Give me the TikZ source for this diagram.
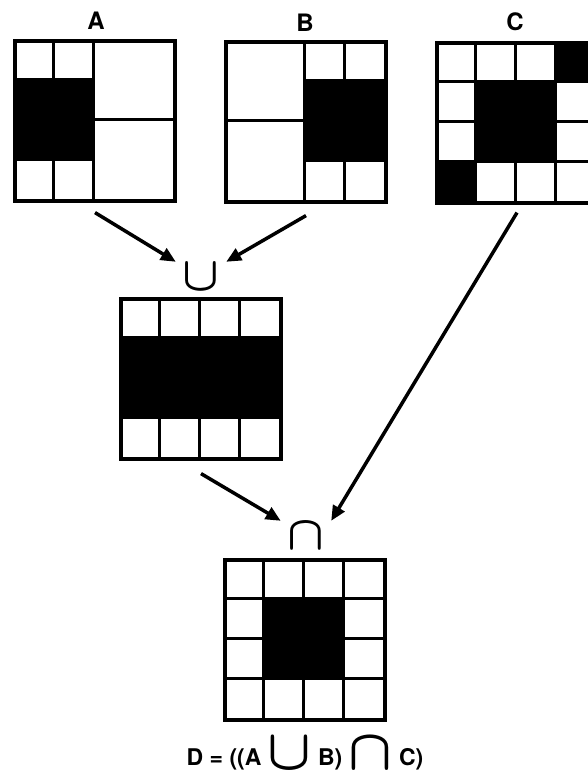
\documentclass[tikz,border=0pt]{standalone}
\usepackage{amsmath}
\usepackage{fontspec}
\setmainfont{TeX Gyre Heros}
\usetikzlibrary{arrows.meta}

\begin{document}
\begin{tikzpicture}[x=1pt,y=-1pt,
  pixgrid/.style={draw,line width=3.2pt,minimum width=160pt,minimum height=160pt,inner sep=0pt},
  cellline/.style={line width=2.8pt},
  flow/.style={line width=3.5pt,-{Triangle[length=15pt,width=13pt]}},
  setop/.style={inner sep=0pt,minimum width=50pt,minimum height=30pt},
  lbl/.style={font=\fontsize{24}{28}\selectfont\bfseries}]
\useasboundingbox (0,0) rectangle (588,773);
\clip (0,0) rectangle (588,773);
% input images
\node[lbl] (la) at (96,21) {A};
\node[lbl] (lb) at (305,23) {B};
\node[lbl] (lc) at (515,22) {C};
\node[pixgrid] (A) at (95,121) {};
\node[pixgrid] (B) at (306,122) {};
\node[pixgrid] (C) at (517,123) {};
\fill ([shift={(0,40)}]A.north west) rectangle ++(80,80);
\fill ([shift={(80,40)}]B.north west) rectangle ++(80,80);
\fill ([shift={(120,0)}]C.north west) rectangle ++(40,40);
\fill ([shift={(40,40)}]C.north west) rectangle ++(80,80);
\fill ([shift={(0,120)}]C.north west) rectangle ++(40,40);
\draw[cellline] ([shift={(40,0)}]A.north west) -- ++(0,160)
  ([shift={(80,0)}]A.north west) -- ++(0,160)
  ([shift={(0,40)}]A.north west) -- ++(80,0)
  ([shift={(0,120)}]A.north west) -- ++(80,0)
  ([shift={(80,80)}]A.north west) -- ++(80,0);
\draw[cellline] ([shift={(80,0)}]B.north west) -- ++(0,160)
  ([shift={(120,0)}]B.north west) -- ++(0,160)
  ([shift={(80,40)}]B.north west) -- ++(80,0)
  ([shift={(80,120)}]B.north west) -- ++(80,0)
  ([shift={(0,80)}]B.north west) -- ++(80,0);
% union and intersection
\node[setop] (cupop) at (201,277) {\scalebox{4.8}{$\boldsymbol{\cup}$}};
\node[pixgrid] (M) at (201,379) {};
\fill ([shift={(0,40)}]M.north west) rectangle ++(160,80);
\node[setop] (capop) at (306,536) {\scalebox{4.8}{$\boldsymbol{\cap}$}};
\node[pixgrid] (D) at (305,640) {};
\fill ([shift={(40,40)}]D.north west) rectangle ++(80,80);
\foreach \g in {C,M,D}
  \foreach \k in {40,80,120}
    \draw[cellline] ([shift={(\k,0)}]\g.north west) -- ++(0,160)
      ([shift={(0,\k)}]\g.north west) -- ++(160,0);
\draw[flow] ([yshift=-10pt]A.south) -- (cupop.north west);
\draw[flow] ([yshift=-12pt]B.south) -- (cupop.north east);
\draw[flow] ([yshift=-13pt]M.south) -- (capop.north west);
\draw[flow] ([yshift=-8pt]C.south) -- (capop.north east);
\node[font=\fontsize{23}{27}\selectfont\bfseries] (eq) at (305,754)
  {D = ((A \raisebox{-4pt}{\scalebox{2.3}{$\boldsymbol{\cup}$}} B)
  \raisebox{-4pt}{\scalebox{2.3}{$\boldsymbol{\cap}$}} C)};
\end{tikzpicture}
\end{document}
